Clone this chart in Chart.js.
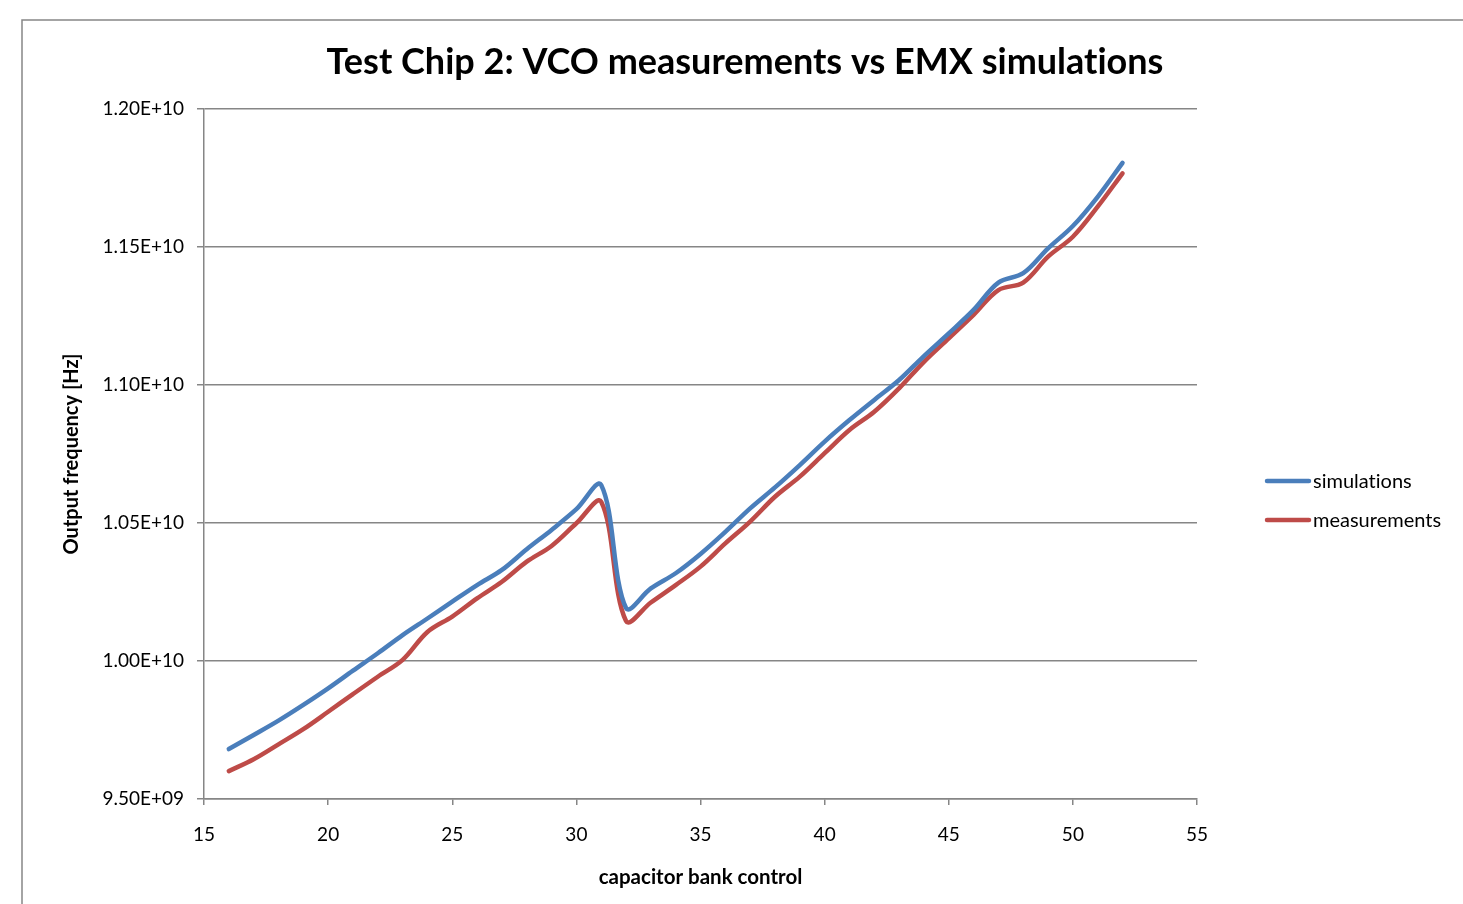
<!DOCTYPE html>
<html>
<head>
<meta charset="utf-8">
<script src="https://cdn.jsdelivr.net/npm/chart.js@4"></script>
<style>
  html, body { margin: 0; padding: 0; background: #fff; }
  #wrap { width: 1463px; height: 904px; }
</style>
</head>
<body>
<div id="wrap"><canvas id="vco-chart" width="1463" height="904"></canvas></div>
<script>
const capBank = [16, 17, 18, 19, 20, 21, 22, 23, 24, 25, 26, 27, 28, 29, 30, 31, 32, 33, 34,
                 35, 36, 37, 38, 39, 40, 41, 42, 43, 44, 45, 46, 47, 48, 49, 50, 51, 52];

const simulations = [9.681e9, 9.732e9, 9.784e9, 9.841e9, 9.901e9, 9.965e9, 10.028e9, 10.094e9,
                     10.154e9, 10.215e9, 10.275e9, 10.330e9, 10.405e9, 10.475e9, 10.550e9, 10.638e9,
                     10.192e9, 10.263e9, 10.318e9, 10.388e9, 10.468e9, 10.553e9, 10.629e9, 10.710e9,
                     10.795e9, 10.873e9, 10.946e9, 11.018e9, 11.105e9, 11.187e9, 11.272e9, 11.371e9,
                     11.405e9, 11.495e9, 11.576e9, 11.682e9, 11.805e9];

const measurements = [9.601e9, 9.644e9, 9.698e9, 9.753e9, 9.816e9, 9.880e9, 9.943e9, 10.004e9,
                      10.105e9, 10.161e9, 10.227e9, 10.287e9, 10.360e9, 10.417e9, 10.499e9, 10.577e9,
                      10.145e9, 10.212e9, 10.275e9, 10.342e9, 10.426e9, 10.505e9, 10.595e9, 10.668e9,
                      10.753e9, 10.837e9, 10.903e9, 10.988e9, 11.084e9, 11.169e9, 11.254e9, 11.344e9,
                      11.371e9, 11.465e9, 11.537e9, 11.646e9, 11.767e9];

const xTicks = [15, 20, 25, 30, 35, 40, 45, 50, 55];
const yTicks = [9.5e9, 1.0e10, 1.05e10, 1.1e10, 1.15e10, 1.2e10];

const blue = "#4a7ebb";
const red = "#be4b48";
const grey = "#868686";
const fontName = "Lato, 'Open Sans', sans-serif";

function sciLabel(v) {
    let exp = Math.floor(Math.log10(v) + 1e-9);
    let mant = (v / Math.pow(10, exp)).toFixed(2);
    let e = String(exp).padStart(2, "0");
    return mant + "E+" + e;
}

function toPoints(ys) {
    return capBank.map((x, i) => ({ x: x, y: ys[i] }));
}

// frame, title and legend
const decorations = {
    id: "decorations",
    beforeDraw(chart) {
        const c = chart.ctx;
        c.textRendering = "optimizeSpeed"; // no "ti" ligature
        c.save();
        c.strokeStyle = grey;
        c.lineWidth = 1.5;
        c.beginPath();
        c.moveTo(22, 904);
        c.lineTo(22, 20);
        c.lineTo(1463, 20);
        c.stroke();
        c.restore();
    },
    afterDraw(chart) {
        const c = chart.ctx;
        c.save();
        c.fillStyle = "#000";
        c.font = "bold 36px " + fontName;
        c.textAlign = "center";
        c.textBaseline = "middle";
        c.fillText("Test Chip 2: VCO measurements vs EMX simulations", 745, 62);

        const items = [["simulations", blue, 481], ["measurements", red, 520]];
        c.font = "20px " + fontName;
        c.textAlign = "left";
        items.forEach(([label, col, y]) => {
            c.strokeStyle = col;
            c.lineWidth = 4.5;
            c.lineCap = "round";
            c.beginPath();
            c.moveTo(1267, y);
            c.lineTo(1309, y);
            c.stroke();
            c.fillText(label, 1313, y + 1);
        });
        c.restore();
    }
};

new Chart(document.getElementById("vco-chart"), {
    type: "line",
    data: {
        datasets: [
            {
                label: "simulations",
                data: toPoints(simulations),
                borderColor: blue,
                backgroundColor: blue,
                borderWidth: 4.5,
                pointRadius: 0,
                tension: 0.35,
                borderCapStyle: "round"
            },
            {
                label: "measurements",
                data: toPoints(measurements),
                borderColor: red,
                backgroundColor: red,
                borderWidth: 4.5,
                pointRadius: 0,
                tension: 0.35,
                borderCapStyle: "round"
            }
        ]
    },
    options: {
        responsive: false,
        animation: false,
        layout: { padding: { top: 109, right: 266, left: 0, bottom: 0 } },
        plugins: {
            legend: { display: false },
            tooltip: { enabled: false }
        },
        scales: {
            x: {
                type: "linear",
                min: 15,
                max: 55,
                afterBuildTicks: (scale) => { scale.ticks = xTicks.map(v => ({ value: v })); },
                afterFit: (scale) => { scale.height = 105; },
                grid: { drawOnChartArea: false, color: grey, tickLength: 6, lineWidth: 1.5 },
                border: { color: grey, width: 1.5 },
                ticks: { color: "#000", font: { family: fontName, size: 19 }, padding: 18, maxRotation: 0 },
                title: {
                    display: true,
                    text: "capacitor bank control",
                    color: "#000",
                    font: { family: fontName, size: 20.5, weight: "bold" },
                    padding: { top: 0, bottom: 14 }
                }
            },
            y: {
                min: 9.5e9,
                max: 1.2e10,
                afterBuildTicks: (scale) => { scale.ticks = yTicks.map(v => ({ value: v })); },
                afterFit: (scale) => { scale.width = 204; },
                grid: { color: grey, tickLength: 7, lineWidth: 1.5 },
                border: { color: grey, width: 1.5 },
                ticks: {
                    color: "#000",
                    font: { family: fontName, size: 19 },
                    padding: 13,
                    callback: (v) => sciLabel(v)
                },
                title: {
                    display: true,
                    text: "Output frequency [Hz]",
                    color: "#000",
                    font: { family: fontName, size: 20, weight: "bold" },
                    padding: { top: 60, bottom: 0 }
                }
            }
        }
    },
    plugins: [decorations]
});
</script>
</body>
</html>
